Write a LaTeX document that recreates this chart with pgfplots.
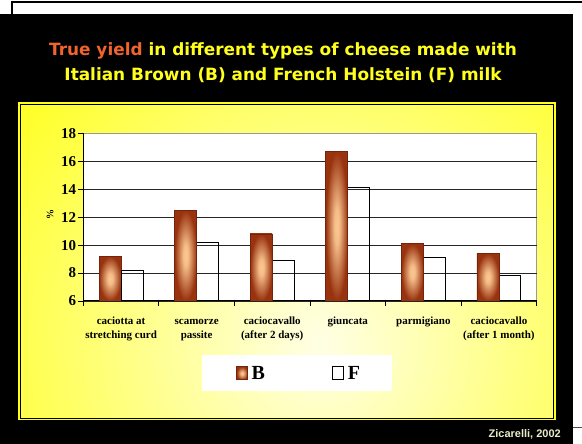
\documentclass[border=0pt]{standalone}
\usepackage{fontspec}
\setmainfont{Liberation Serif}
\newfontfamily\titlefont{DejaVu Sans}
\newfontfamily\notefont{Liberation Sans}
\usepackage{pgfplots}
\pgfplotsset{compat=1.18}

\definecolor{bardark}{HTML}{98320F}
\definecolor{barlight}{HTML}{FCC892}
\definecolor{titleorange}{HTML}{F0642D}
\definecolor{titleyellow}{HTML}{FFFF1E}
\definecolor{panelyellow}{HTML}{FFFF22}
\definecolor{notegray}{HTML}{EBEBC8}

% only the inner 25bp of a radial shading reach the edge of the path
\pgfdeclareradialshading{barshade}{\pgfpoint{0bp}{0bp}}{%
  color(0bp)=(barlight); color(6bp)=(barlight!92!bardark);
  color(25bp)=(bardark); color(50bp)=(bardark)}

\pgfplotsset{
  boxlegend/.style={legend image code/.code={\draw[##1] (0pt,-6.5pt) rectangle (11pt,6.5pt);}},
  % one \addplot per B bar, so that each bar gets its own shading
  bbar/.style={ybar, bar width=0.291, bar shift=-0.1455, shade, shading=barshade,
    draw=bardark!75!black, line width=0.8pt, boxlegend},
  fbar/.style={ybar, bar width=0.291, bar shift=0.1455, fill=none,
    draw=black, line width=1pt, boxlegend},
}

\begin{document}
\begin{tikzpicture}
\useasboundingbox (0,0) rectangle (582pt,444pt);
% slide background
\fill[white] (0,0) rectangle (582pt,444pt);
\fill[black] (0,0) rectangle (573pt,430pt);
\draw[black, line width=1.2pt] (12pt,430pt) -- (12pt,442pt) -- (582pt,442pt);
\draw[black!70, line width=1pt] (573pt,16pt) -- (582pt,16pt);

% title
\node[anchor=base, inner sep=0pt, font=\titlefont\bfseries\fontsize{16.9}{20}\selectfont]
  at (283pt,388pt) {\textcolor{titleorange}{True yield} \textcolor{titleyellow}{in different types of cheese made with}};
\node[anchor=base, inner sep=0pt, font=\titlefont\bfseries\fontsize{16.9}{20}\selectfont, text=titleyellow]
  at (283pt,363.5pt) {Italian Brown (B) and French Holstein (F) milk};

% source
\node[anchor=base east, inner sep=0pt, font=\notefont\bfseries\fontsize{11}{12}\selectfont, text=notegray]
  at (561pt,6.5pt) {Zicarelli, 2002};

% yellow panel
\fill[panelyellow] (18pt,23.5pt) rectangle (556pt,342.3pt);
\begin{scope}
  \clip (21pt,26.5pt) rectangle (553pt,339.3pt);
  \shade[inner color=white!90!yellow, outer color=panelyellow] (320pt,100pt) circle (390pt);
\end{scope}
\draw[black, line width=0.6pt] (20.5pt,26pt) rectangle (553.5pt,339.8pt);

% legend box
\fill[white] (201.7pt,53.3pt) rectangle (391.7pt,89pt);

\begin{axis}[
  at={(83.3pt,143pt)}, anchor=south west,
  scale only axis, width=453.4pt, height=167.7pt,
  xmin=-0.5, xmax=5.5, ymin=6, ymax=18,
  y coord trafo/.code={\pgfmathparse{#1-6}},
  y coord inv trafo/.code={\pgfmathparse{#1+6}},
  axis x line*=bottom, axis y line*=left,
  axis line style={-, black, line width=1pt},
  axis background/.style={fill=white, draw=gray!80, line width=1pt},
  xtick={-0.5,0.5,...,5.5}, xticklabels={},
  extra x ticks={0,...,5},
  extra x tick labels={{\strut caciotta at\\stretching curd},{\strut scamorze\\passite},{\strut caciocavallo\\(after 2 days)},{\strut giuncata},{\strut parmigiano},{\strut caciocavallo\\(after 1 month)}},
  extra x tick style={major tick length=0pt, grid=none,
    tick label style={align=center, anchor=north, yshift=-10.5pt,
      font=\bfseries\fontsize{11}{13.6}\selectfont}},
  ytick={6,8,...,16},
  extra y ticks={18},
  extra y tick style={grid=none},
  tick align=outside, major tick length=5pt,
  tick style={black, line width=0.9pt},
  yticklabel style={font=\bfseries\fontsize{15}{15}\selectfont, inner sep=2pt},
  /pgf/number format/assume math mode=true,
  ymajorgrids, grid style={black!85, line width=0.9pt},
  ylabel={\%},
  every axis y label/.style={at={(axis description cs:-0.0734,0.513)}, rotate=90, anchor=center,
    font=\bfseries\fontsize{10}{10}\selectfont},
  legend columns=2,
  legend style={at={(axis description cs:0.3368,-0.4311)}, anchor=west,
    draw=none, fill=none, inner sep=0pt,
    font=\bfseries\fontsize{20}{20}\selectfont,
    nodes={inner sep=3.5pt},
    /tikz/every even column/.append style={column sep=64pt}},
]
% B: Italian Brown
\addplot[bbar] coordinates {(0,9.2)};
\addlegendentry{B}
% F: French Holstein
\addplot[fbar] coordinates {(0,8.2) (1,10.2) (2,8.9) (3,14.1) (4,9.1) (5,7.8)};
\addlegendentry{F}
\addplot[bbar, forget plot] coordinates {(1,12.5)};
\addplot[bbar, forget plot] coordinates {(2,10.8)};
\addplot[bbar, forget plot] coordinates {(3,16.7)};
\addplot[bbar, forget plot] coordinates {(4,10.1)};
\addplot[bbar, forget plot] coordinates {(5,9.4)};
\end{axis}
\end{tikzpicture}
\end{document}
